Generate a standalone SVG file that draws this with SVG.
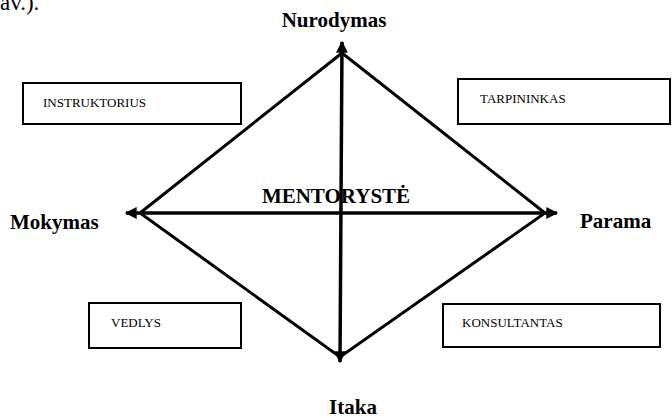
<svg xmlns="http://www.w3.org/2000/svg" width="672" height="417" viewBox="0 0 672 417">
  <style>
    .bg { fill: #ffffff; }
    .box { fill: #ffffff; stroke: #000000; stroke-width: 2; }
    .role { font-family: "Liberation Serif", "Times New Roman", serif; font-size: 13px; fill: #000000; }
    .pole { font-family: "Liberation Serif", "Times New Roman", serif; font-size: 21px; font-weight: bold; fill: #000000; }
    .edge { stroke: #000000; stroke-width: 3; fill: none; stroke-linecap: round; }
    .axis { stroke: #000000; stroke-width: 3.5; fill: none; }
  </style>
  <defs>
    <marker id="arrow" viewBox="0 0 10 10" refX="9" refY="5" markerWidth="3.6" markerHeight="3.4" orient="auto-start-reverse" markerUnits="strokeWidth">
      <path d="M0,0 L10,5 L0,10 z" fill="#000000"/>
    </marker>
  </defs>
  <rect class="bg" x="0" y="0" width="672" height="417"/>

  <text x="0" y="10" font-family="Liberation Serif, Times New Roman, serif" font-size="23" fill="#000">av.).</text>

  <g id="connectors">
    <!-- diamond sides -->
    <polyline class="edge" points="342,53 140,213 340,357 545,213 342,53"/>
    <!-- axes with arrowheads at both ends -->
    <line class="axis" x1="126" y1="213" x2="557" y2="213" marker-start="url(#arrow)" marker-end="url(#arrow)"/>
    <line class="axis" x1="342" y1="42" x2="340" y2="362" marker-start="url(#arrow)" marker-end="url(#arrow)"/>
  </g>

  <g id="center">
    <text class="pole" x="336" y="203" text-anchor="middle">MENTORYSTĖ</text>
  </g>

  <g id="nurodymas"><text class="pole" x="334" y="27" text-anchor="middle">Nurodymas</text></g>
  <g id="mokymas"><text class="pole" x="10" y="229">Mokymas</text></g>
  <g id="parama"><text class="pole" x="580" y="228">Parama</text></g>
  <g id="itaka"><text class="pole" x="353" y="414" text-anchor="middle">Itaka</text></g>

  <g id="instruktorius">
    <rect class="box" x="23" y="83" width="218" height="41"/>
    <text class="role" x="43" y="107">INSTRUKTORIUS</text>
  </g>
  <g id="tarpininkas">
    <rect class="box" x="458" y="79" width="212" height="45"/>
    <text class="role" x="480" y="103">TARPININKAS</text>
  </g>
  <g id="vedlys">
    <rect class="box" x="89" y="303" width="152" height="45"/>
    <text class="role" x="111" y="327">VEDLYS</text>
  </g>
  <g id="konsultantas">
    <rect class="box" x="443" y="304" width="217" height="43"/>
    <text class="role" x="462" y="327">KONSULTANTAS</text>
  </g>
</svg>
